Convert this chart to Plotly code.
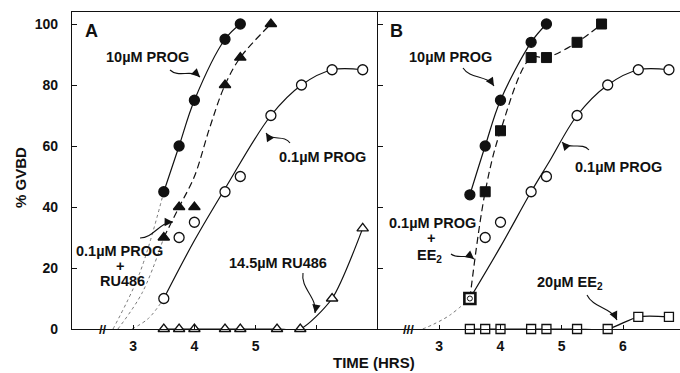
import plotly.graph_objects as go

# ---------------- data (hours, % GVBD) ----------------
# Panel A
a_prog10_t = [3.5, 3.75, 4.0, 4.5, 4.75]
a_prog10_v = [45, 60, 75, 95, 100]
a_prog_ru_t = [3.5, 3.75, 4.0, 4.5, 4.75, 5.25]
a_prog_ru_v = [30, 40, 40, 80, 89, 100]
a_prog01_t = [3.5, 3.75, 4.0, 4.5, 4.75, 5.25, 5.75, 6.25, 6.75]
a_prog01_v = [10, 30, 35, 45, 50, 70, 80, 85, 85]
a_ru486_t = [3.5, 3.75, 4.0, 4.5, 4.75, 5.35, 5.73, 6.25, 6.75]
a_ru486_v = [0, 0, 0, 0, 0, 0, 0, 10, 33]
# hand-drawn fitted curves (panel A)
a_prog_ru_fit_t = [3.5, 3.75, 4.0, 4.25, 4.5, 4.75, 5.25]
a_prog_ru_fit_v = [30, 40, 50, 66, 80, 89, 100]
a_prog01_fit_t = [3.5, 4.0, 4.5, 5.25, 5.75, 6.25, 6.75]
a_prog01_fit_v = [10, 29, 46, 70, 80, 85, 85]
# dotted extrapolations (panel A)
a_dot1_t = [2.67, 3.1, 3.5]
a_dot1_v = [0, 18, 45]
a_dot2_t = [2.75, 3.15, 3.5]
a_dot2_v = [0, 12, 30]
a_dot3_t = [2.98, 3.25, 3.5]
a_dot3_v = [0, 3.5, 10]

# Panel B
b_prog10_t = [3.5, 3.75, 4.0, 4.5, 4.75]
b_prog10_v = [44, 60, 75, 94, 100]
b_prog_ee_t = [3.5, 3.75, 4.0, 4.5, 4.75, 5.25, 5.65]
b_prog_ee_v = [10, 45, 65, 89, 89, 94, 100]
b_prog01_t = [3.5, 3.75, 4.0, 4.5, 4.75, 5.25, 5.75, 6.25, 6.75]
b_prog01_v = [10, 30, 35, 45, 50, 70, 80, 85, 85]
b_ee20_t = [3.5, 3.75, 4.0, 4.5, 4.75, 5.25, 5.75, 6.25, 6.75]
b_ee20_v = [0, 0, 0, 0, 0, 0, 0, 4, 4]
b_prog01_fit_t = [3.5, 4.0, 4.5, 4.8, 5.25, 5.75, 6.25, 6.75]
b_prog01_fit_v = [10, 27, 45, 55, 70, 80, 85, 85]
b_dot_t = [2.73, 2.9, 3.17, 3.5]
b_dot_v = [0, 1.5, 4.5, 10]

x_ticks = [3, 4, 5, 6]
a_tick_text = ["3", "4", "5", ""]
b_tick_text = ["3", "4", "5", "6"]
y_ticks = [0, 20, 40, 60, 80, 100]

# ---------------- figure ----------------
W, H = 680, 373
L, R, T, B = 72, 0, 12, 44
PW, PH = W - L - R, H - T - B
split = (378 - L) / PW
FONT = "Liberation Sans"
BLACK = "#111111"

fig = go.Figure()


def line(t, v, xa, ya, dash="solid", color=BLACK, width=1.2, smooth=1.0):
    fig.add_trace(go.Scatter(x=t, y=v, xaxis=xa, yaxis=ya, mode="lines",
                             line=dict(color=color, width=width, dash=dash,
                                       shape="spline", smoothing=smooth),
                             hoverinfo="skip", showlegend=False))


def marks(t, v, xa, ya, symbol, fill, size=10, lw=1.3):
    fig.add_trace(go.Scatter(x=t, y=v, xaxis=xa, yaxis=ya, mode="markers",
                             marker=dict(symbol=symbol, color=fill, size=size,
                                         opacity=1,
                                         line=dict(color=BLACK, width=lw)),
                             cliponaxis=False, showlegend=False))


DOT = dict(dash="dot", color="#777777", width=1.0)

# Panel A
for t, v in [(a_dot1_t, a_dot1_v), (a_dot2_t, a_dot2_v), (a_dot3_t, a_dot3_v)]:
    line(t, v, "x", "y", **DOT)
line(a_prog10_t, a_prog10_v, "x", "y")
line(a_prog_ru_fit_t, a_prog_ru_fit_v, "x", "y", dash="7px,4px")
line(a_prog01_fit_t, a_prog01_fit_v, "x", "y")
line(a_ru486_t, a_ru486_v, "x", "y", smooth=0.7)
marks(a_ru486_t, a_ru486_v, "x", "y", "triangle-up", "white", size=10)
marks(a_prog01_t, a_prog01_v, "x", "y", "circle", "white", size=10)
marks(a_prog_ru_t, a_prog_ru_v, "x", "y", "triangle-up", BLACK, size=10)
marks(a_prog10_t, a_prog10_v, "x", "y", "circle", BLACK, size=10)

# Panel B
line(b_dot_t, b_dot_v, "x2", "y2", **DOT)
line(b_prog10_t, b_prog10_v, "x2", "y2")
line(b_prog_ee_t, b_prog_ee_v, "x2", "y2", dash="7px,4px")
line(b_prog01_fit_t, b_prog01_fit_v, "x2", "y2")
line(b_ee20_t, b_ee20_v, "x2", "y2", smooth=0.7)
marks(b_ee20_t, b_ee20_v, "x2", "y2", "square", "white", size=9)
# first point of the PROG+EE2 series: bold open square (coincides with 0.1uM PROG)
marks(b_prog_ee_t[:1], b_prog_ee_v[:1], "x2", "y2", "square", "white", size=11, lw=2.6)
marks(b_prog_ee_t[1:], b_prog_ee_v[1:], "x2", "y2", "square", BLACK, size=10, lw=1)
marks(b_prog01_t[:1], b_prog01_v[:1], "x2", "y2", "circle", "white", size=5, lw=1)
marks(b_prog01_t[1:], b_prog01_v[1:], "x2", "y2", "circle", "white", size=10)
marks(b_prog10_t, b_prog10_v, "x2", "y2", "circle", BLACK, size=10)

tickfont = dict(family=FONT, size=14, color=BLACK, weight="bold")
xcommon = dict(tickvals=x_ticks, ticks="inside", ticklen=4, tickwidth=1,
               tickcolor=BLACK, showline=True, linecolor=BLACK, linewidth=1.3,
               mirror=True, showgrid=False, zeroline=False, tickfont=tickfont,
               ticklabelstandoff=4)
fig.update_layout(
    width=W, height=H, margin=dict(l=L, r=R, t=T, b=B),
    paper_bgcolor="white", plot_bgcolor="white",
    xaxis=dict(domain=[0, split], range=[2, 7], ticktext=a_tick_text,
               anchor="y", **xcommon),
    xaxis2=dict(domain=[split, 1], range=[2, 2 + (W - 378) / 61.25],
                ticktext=b_tick_text, anchor="y2", **xcommon),
    yaxis=dict(range=[0, PH / 3.05], tickvals=y_ticks, ticks="inside",
               ticklen=5, tickcolor=BLACK, showline=True, linecolor=BLACK,
               linewidth=1.3, showgrid=False, zeroline=False,
               tickfont=tickfont, ticklabelstandoff=10, anchor="x"),
    yaxis2=dict(range=[0, PH / 3.05], tickvals=y_ticks, ticks="inside",
                ticklen=5, tickcolor=BLACK, showline=True, linecolor=BLACK,
                linewidth=1.3, showgrid=False, zeroline=False,
                showticklabels=False, anchor="x2"),
)


def P(xp, yp):
    return (xp - L) / PW, (H - B - yp) / PH


def text(s, xp, yp, size=14.5, angle=0):
    x, y = P(xp, yp)
    fig.add_annotation(x=x, y=y, xref="paper", yref="paper", text=s,
                       showarrow=False, textangle=angle,
                       xanchor="center", yanchor="middle",
                       font=dict(family=FONT, size=size, color=BLACK, weight="bold"))


def squiggle(tx, ty, hx, hy, k=6.0):
    """S-shaped leader from (tx,ty) to (hx,hy) in page pixels, ending in an arrowhead."""
    dx, dy = hx - tx, hy - ty
    n = (dx * dx + dy * dy) ** 0.5
    px_, py_ = -dy / n * k, dx / n * k
    c1 = (tx + dx / 3 + px_, ty + dy / 3 + py_)
    c2 = (tx + 2 * dx / 3 - px_, ty + 2 * dy / 3 - py_)
    pts = [P(tx, ty), P(*c1), P(*c2), P(hx, hy)]
    path = "M {},{} C {},{} {},{} {},{}".format(*[v for p in pts for v in p])
    fig.add_shape(type="path", path=path, xref="paper", yref="paper",
                  line=dict(color=BLACK, width=1.1))
    # arrowhead along the final tangent
    ex, ey = hx - c2[0], hy - c2[1]
    m = (ex * ex + ey * ey) ** 0.5
    x, y = P(hx, hy)
    fig.add_annotation(x=x, y=y, xref="paper", yref="paper", text="",
                       showarrow=True, ax=-ex / m * 8, ay=-ey / m * 8,
                       arrowhead=2, arrowsize=1.4, arrowwidth=1.2,
                       arrowcolor=BLACK)


text("A", 91, 31, size=18)
text("B", 396, 31, size=18)
text("10µM PROG", 147, 57)
squiggle(170, 70, 200, 77)
text("0.1µM PROG", 322, 157)
squiggle(290, 143, 266, 133)
text("0.1µM PROG", 119, 251)
text("+", 120, 266)
text("RU486", 122, 281)
squiggle(140, 238, 173, 222)
text("14.5µM RU486", 278, 263)
squiggle(303, 273, 315, 313, k=7)
text("10µM PROG", 450, 57)
squiggle(463, 68, 494, 86)
text("0.1µM PROG", 618, 167)
squiggle(589, 150, 562, 142)
text("0.1µM PROG", 432, 223)
text("+", 431, 238)
text("EE<sub>2</sub>", 429, 256)
squiggle(451, 254, 474, 259, k=4)
text("20µM EE<sub>2</sub>", 570, 283)
squiggle(587, 295, 617, 320)
text("//", 103, 329, size=13)
text("///", 408, 329, size=13)
text("TIME (HRS)", 374, 362, size=15)
text("% GVBD", 20, 178, size=15, angle=-90)

# remove the browser's default 8px page margin so the figure sits at (0, 0)
fig.write_html("out.html", config={"displayModeBar": False},
               post_script="document.body.style.margin='0';")
